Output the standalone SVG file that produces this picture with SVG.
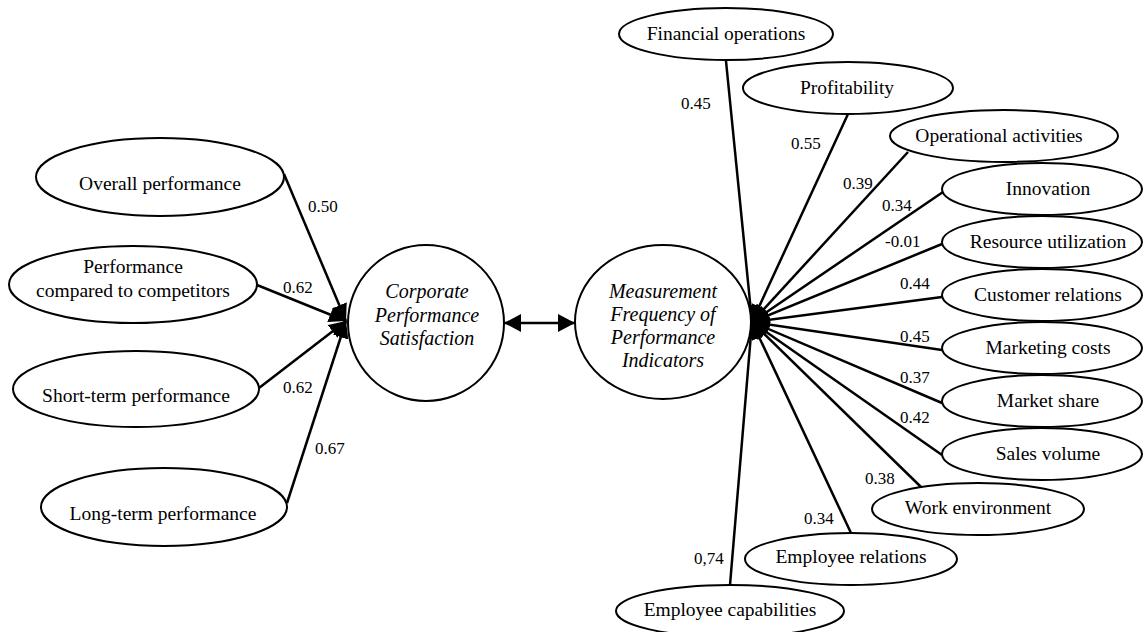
<svg xmlns="http://www.w3.org/2000/svg" width="1146" height="632" viewBox="0 0 1146 632">
<style>
.n{fill:#fff;stroke:#000;stroke-width:2}
text{font-family:'Liberation Serif','Times New Roman',Times,serif;fill:#000}
.t{font-size:19.5px;text-anchor:middle}
.i{font-size:20px;font-style:italic;text-anchor:middle}
.l{font-size:17px}
.c{stroke:#000;stroke-width:2.5;fill:none;marker-end:url(#ah)}
</style>
<defs>
<marker id="ah" markerUnits="userSpaceOnUse" markerWidth="17" markerHeight="16" refX="17" refY="8" orient="auto" viewBox="0 0 17 16"><path d="M0,0 L17,8 L0,16 Z" fill="#000"/></marker>
<marker id="ad" markerUnits="userSpaceOnUse" markerWidth="17" markerHeight="18" refX="17" refY="9" orient="auto-start-reverse" viewBox="0 0 17 18"><path d="M0,0 L17,9 L0,18 Z" fill="#000"/></marker>
</defs>
<rect width="1146" height="632" fill="#fff"/>

<g id="connectors">
<line class="c" x1="284" y1="174" x2="346" y2="321"/>
<line class="c" x1="257" y1="285" x2="346" y2="321"/>
<line class="c" x1="259" y1="388" x2="346" y2="321"/>
<line class="c" x1="287" y1="503" x2="346" y2="321"/>
<line x1="504" y1="323" x2="575" y2="323" stroke="#000" stroke-width="2.5" marker-start="url(#ad)" marker-end="url(#ad)"/>
<line class="c" x1="726" y1="61" x2="752" y2="322"/>
<line class="c" x1="848" y1="114" x2="752" y2="322"/>
<line class="c" x1="908" y1="152" x2="752" y2="322"/>
<line class="c" x1="943" y1="192" x2="752" y2="322"/>
<line class="c" x1="942" y1="244" x2="752" y2="322"/>
<line class="c" x1="942" y1="297" x2="752" y2="322"/>
<line class="c" x1="942" y1="350" x2="752" y2="322"/>
<line class="c" x1="942" y1="403" x2="752" y2="322"/>
<line class="c" x1="942" y1="455" x2="752" y2="322"/>
<line class="c" x1="921" y1="487" x2="752" y2="322"/>
<line class="c" x1="851" y1="533" x2="752" y2="322"/>
<line class="c" x1="730" y1="585" x2="752" y2="322"/>
<text class="l" x="308" y="212">0.50</text>
<text class="l" x="283" y="293">0.62</text>
<text class="l" x="283" y="393">0.62</text>
<text class="l" x="315" y="454">0.67</text>
<text class="l" x="681" y="109">0.45</text>
<text class="l" x="791" y="149">0.55</text>
<text class="l" x="843" y="189">0.39</text>
<text class="l" x="882" y="211">0.34</text>
<text class="l" x="885" y="247">-0.01</text>
<text class="l" x="900" y="289">0.44</text>
<text class="l" x="900" y="342">0.45</text>
<text class="l" x="900" y="383">0.37</text>
<text class="l" x="900" y="423">0.42</text>
<text class="l" x="865" y="484">0.38</text>
<text class="l" x="804" y="524">0.34</text>
<text class="l" x="694" y="564">0,74</text>
</g>

<g id="overall"><ellipse class="n" cx="160" cy="177" rx="124" ry="39"/><text class="t" x="160" y="190">Overall performance</text></g>
<g id="competitors"><ellipse class="n" cx="133" cy="284.5" rx="124" ry="38.5"/><text class="t" x="133" y="273">Performance</text><text class="t" x="133" y="297">compared to competitors</text></g>
<g id="shortterm"><ellipse class="n" cx="136" cy="389" rx="123" ry="38"/><text class="t" x="136" y="402">Short-term performance</text></g>
<g id="longterm"><ellipse class="n" cx="164" cy="507" rx="123" ry="39"/><text class="t" x="163" y="520">Long-term performance</text></g>

<g id="cps"><ellipse class="n" cx="426" cy="323" rx="78" ry="78"/><text class="i" x="427" y="298">Corporate</text><text class="i" x="427" y="322">Performance</text><text class="i" x="427" y="345">Satisfaction</text></g>
<g id="mfpi"><ellipse class="n" cx="663" cy="322" rx="88" ry="77"/><text class="i" x="663" y="298">Measurement</text><text class="i" x="663" y="321">Frequency of</text><text class="i" x="663" y="344">Performance</text><text class="i" x="663" y="367">Indicators</text></g>

<g id="financial"><ellipse class="n" cx="726" cy="34" rx="107" ry="26"/><text class="t" x="726" y="40">Financial operations</text></g>
<g id="profitability"><ellipse class="n" cx="848" cy="88" rx="105" ry="26"/><text class="t" x="847" y="94">Profitability</text></g>
<g id="operational"><ellipse class="n" cx="1004" cy="136" rx="114" ry="26"/><text class="t" x="999" y="142">Operational activities</text></g>
<g id="innovation"><ellipse class="n" cx="1042" cy="189" rx="100" ry="26"/><text class="t" x="1048" y="195">Innovation</text></g>
<g id="resource"><ellipse class="n" cx="1042" cy="242" rx="100" ry="26"/><text class="t" x="1048" y="248">Resource utilization</text></g>
<g id="customer"><ellipse class="n" cx="1042" cy="295" rx="100" ry="26"/><text class="t" x="1048" y="301">Customer relations</text></g>
<g id="marketing"><ellipse class="n" cx="1042" cy="348" rx="100" ry="26"/><text class="t" x="1048" y="354">Marketing costs</text></g>
<g id="marketshare"><ellipse class="n" cx="1042" cy="401" rx="100" ry="26"/><text class="t" x="1048" y="407">Market share</text></g>
<g id="sales"><ellipse class="n" cx="1042" cy="454" rx="100" ry="26"/><text class="t" x="1048" y="460">Sales volume</text></g>
<g id="workenv"><ellipse class="n" cx="978" cy="509" rx="106" ry="26"/><text class="t" x="978" y="514">Work environment</text></g>
<g id="emprel"><ellipse class="n" cx="851" cy="559" rx="106" ry="26"/><text class="t" x="851" y="563">Employee relations</text></g>
<g id="empcap"><ellipse class="n" cx="730" cy="611" rx="114" ry="26"/><text class="t" x="730" y="616">Employee capabilities</text></g>
</svg>
